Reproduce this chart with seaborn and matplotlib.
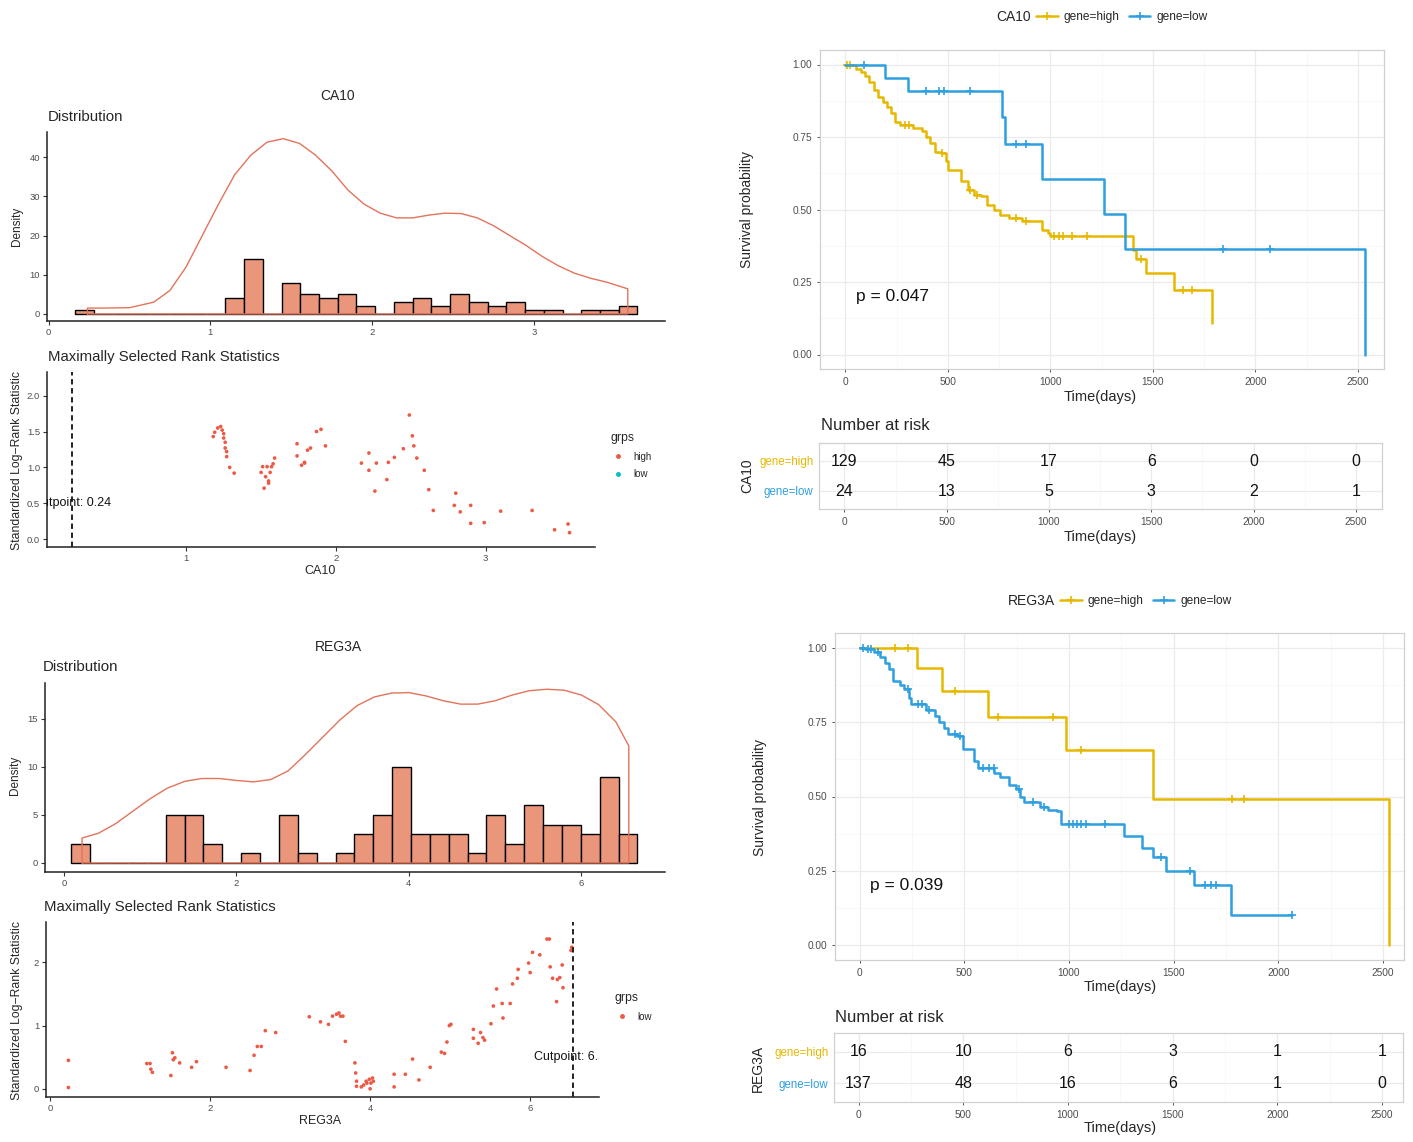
import numpy as np
import pandas as pd
import matplotlib
matplotlib.use("Agg")
import matplotlib.pyplot as plt
from matplotlib.lines import Line2D
from matplotlib.ticker import MultipleLocator, FormatStrFormatter
import seaborn as sns

W, H = 1413, 1142

# ---------------- distribution panels (counts per bin) ----------------
ca10_bin_lo, ca10_bin_hi = 0.166, 3.64
ca10_counts = [1, 0, 0, 0, 0, 0, 0, 0, 4, 14, 0, 8, 5, 4, 5, 2,
               0, 3, 4, 2, 5, 3, 2, 3, 1, 1, 0, 1, 1, 2]
ca10_dens_x = [0.24, 0.35, 0.50, 0.65, 0.75, 0.85, 0.95, 1.05, 1.15, 1.25, 1.35, 1.45, 1.55,
               1.65, 1.75, 1.85, 1.95, 2.05, 2.15, 2.25, 2.35, 2.45, 2.55, 2.65, 2.75, 2.85,
               2.95, 3.05, 3.15, 3.25, 3.35, 3.45, 3.58]
ca10_dens_y = [1.5, 1.5, 1.6, 3.0, 6.0, 12.0, 20.0, 28.0, 35.5, 40.5, 43.8, 44.7, 43.5,
               40.5, 36.5, 31.6, 28.0, 25.7, 24.5, 24.5, 25.2, 25.7, 25.6, 24.5, 22.5, 20.0,
               17.5, 14.7, 12.3, 10.4, 9.1, 8.1, 6.4]

reg_bin_lo, reg_bin_hi = 0.086, 6.65
reg_counts = [2, 0, 0, 0, 0, 5, 5, 2, 0, 1, 0, 5, 1, 0, 1, 3,
              5, 10, 3, 3, 3, 1, 5, 2, 6, 4, 4, 3, 9, 3]
reg_dens_x = [0.21, 0.4, 0.6, 0.8, 1.0, 1.2, 1.4, 1.6, 1.8, 2.0, 2.2, 2.4, 2.6, 2.8, 3.0,
              3.2, 3.4, 3.6, 3.8, 4.0, 4.2, 4.4, 4.6, 4.8, 5.0, 5.2, 5.4, 5.6, 5.8, 6.0,
              6.2, 6.4, 6.55]
reg_dens_y = [2.6, 3.1, 4.1, 5.4, 6.7, 7.8, 8.5, 8.8, 8.8, 8.6, 8.45, 8.7, 9.6, 11.3, 13.1,
              14.9, 16.4, 17.3, 17.7, 17.75, 17.4, 16.9, 16.55, 16.55, 16.9, 17.5, 17.95,
              18.1, 18.0, 17.5, 16.5, 14.7, 12.2]

# ---------------- maximally selected rank statistics ----------------
ca10_rank_x = [1.18, 1.19, 1.21, 1.23, 1.24, 1.25, 1.25, 1.26, 1.26, 1.27, 1.27, 1.29, 1.32,
               1.50, 1.51, 1.52, 1.53, 1.54, 1.55, 1.56, 1.57, 1.58, 1.59, 1.55,
               1.74, 1.74, 1.77, 1.79, 1.79, 1.81, 1.83, 1.87, 1.90, 1.93,
               2.17, 2.22, 2.22, 2.26, 2.27, 2.34, 2.35, 2.39, 2.45, 2.49, 2.51, 2.52, 2.54,
               2.59, 2.62, 2.65, 2.80, 2.79, 2.83, 2.90, 2.90, 2.99, 3.10, 3.31, 3.46, 3.55, 3.56]
ca10_rank_y = [1.43, 1.49, 1.55, 1.57, 1.52, 1.47, 1.41, 1.35, 1.27, 1.22, 1.15, 1.00, 0.92,
               0.93, 1.01, 0.71, 0.87, 1.01, 0.81, 0.93, 1.01, 1.05, 1.13, 0.78,
               1.33, 1.16, 1.03, 1.07, 1.06, 1.24, 1.27, 1.50, 1.53, 1.30,
               1.06, 1.20, 0.96, 0.67, 1.06, 0.83, 1.07, 1.14, 1.26, 1.73, 1.44, 1.30, 1.13,
               0.96, 0.69, 0.40, 0.64, 0.47, 0.38, 0.47, 0.22, 0.23, 0.39, 0.40, 0.13, 0.21, 0.09]
ca10_cut = 0.24

reg_rank_x = [0.23, 0.23, 1.21, 1.25, 1.26, 1.28, 1.51, 1.53, 1.54, 1.56, 1.62, 1.77, 1.83,
              2.20, 2.50, 2.55, 2.59, 2.64, 2.69, 2.82,
              3.24, 3.38, 3.48, 3.53, 3.58, 3.61, 3.63, 3.66, 3.69,
              3.81, 3.82, 3.83, 3.83, 3.89, 3.92, 3.95, 3.96, 3.99, 4.00, 4.01, 4.03, 4.04,
              4.30, 4.30, 4.44, 4.53, 4.61, 4.75,
              4.89, 4.93, 4.96, 4.99, 5.01,
              5.29, 5.29, 5.35, 5.38, 5.41, 5.43,
              5.51, 5.54, 5.58, 5.65, 5.66, 5.75, 5.78, 5.84, 5.85,
              5.98, 6.00, 6.03, 6.12, 6.21, 6.24, 6.25, 6.28, 6.33, 6.34, 6.37, 6.40, 6.41,
              6.51, 6.52]
reg_rank_y = [0.45, 0.02, 0.40, 0.40, 0.31, 0.26, 0.21, 0.57, 0.46, 0.49, 0.41, 0.34, 0.43,
              0.34, 0.29, 0.53, 0.67, 0.67, 0.92, 0.89,
              1.14, 1.06, 1.02, 1.15, 1.18, 1.20, 1.15, 1.15, 0.75,
              0.41, 0.25, 0.12, 0.04, 0.03, 0.06, 0.12, 0.09, 0.15, 0.00, 0.09, 0.17, 0.12,
              0.23, 0.03, 0.23, 0.47, 0.14, 0.34,
              0.58, 0.56, 0.74, 1.00, 1.02,
              0.94, 0.80, 0.72, 0.89, 0.81, 0.77,
              1.03, 1.31, 1.58, 1.35, 1.12, 1.35, 1.66, 1.75, 1.89,
              1.99, 1.84, 2.16, 2.12, 2.37, 2.37, 1.93, 1.75, 1.38, 1.73, 1.76, 1.96, 1.60,
              2.19, 2.24]
reg_cut = 6.53

# ---------------- Kaplan-Meier curves ----------------
ca10_high_t = [0, 53, 74, 96, 117, 138, 160, 181, 202, 223, 240, 266, 330, 372, 394, 415, 436,
               468, 489, 500, 564, 596, 628, 660, 691, 723, 755, 798, 862, 957, 989, 1000,
               1404, 1420, 1468, 1602, 1787]
ca10_high_s = [1.0, 0.986, 0.975, 0.96, 0.94, 0.912, 0.887, 0.872, 0.855, 0.832, 0.803, 0.792,
               0.78, 0.769, 0.751, 0.729, 0.70, 0.694, 0.666, 0.637, 0.597, 0.568, 0.551, 0.545,
               0.517, 0.50, 0.482, 0.471, 0.459, 0.431, 0.419, 0.408, 0.362, 0.33, 0.28, 0.222,
               0.11]
ca10_high_cens = [10, 20, 290, 310, 470, 610, 640, 830, 880, 1020, 1040, 1064, 1106, 1177,
                  1440, 1649, 1691]
ca10_low_t = [0, 191, 304, 766, 781, 960, 1262, 1362, 2534]
ca10_low_s = [1.0, 0.955, 0.908, 0.818, 0.727, 0.605, 0.484, 0.363, 0.0]
ca10_low_cens = [91, 394, 457, 479, 606, 830, 883, 1840, 2074]

reg_high_t = [0, 273, 395, 614, 984, 1401, 2530]
reg_high_s = [1.0, 0.933, 0.855, 0.768, 0.658, 0.493, 0.0]
reg_high_cens = [169, 231, 454, 662, 922, 1057, 1779, 1838]
reg_low_t = [0, 27, 69, 100, 121, 142, 162, 194, 214, 235, 246, 318, 360, 381, 402, 422, 464,
             495, 547, 568, 641, 672, 714, 745, 766, 787, 860, 901, 943, 964, 1265, 1349,
             1401, 1463, 1598, 1775, 2067]
reg_low_s = [1.0, 0.995, 0.985, 0.97, 0.95, 0.93, 0.89, 0.875, 0.86, 0.83, 0.81, 0.79, 0.77,
             0.75, 0.73, 0.71, 0.705, 0.66, 0.62, 0.595, 0.58, 0.565, 0.54, 0.525, 0.50, 0.48,
             0.465, 0.455, 0.45, 0.406, 0.367, 0.328, 0.295, 0.25, 0.203, 0.10, 0.10]
reg_low_cens = [15, 40, 55, 90, 230, 280, 300, 330, 455, 480, 590, 620, 640, 760, 830, 880,
                1000, 1020, 1040, 1060, 1080, 1170, 1440, 1580, 1650, 1680, 1700, 2067]

# ---------------- number at risk ----------------
risk_times = [0, 500, 1000, 1500, 2000, 2500]
ca10_risk_high = [129, 45, 17, 6, 0, 0]
ca10_risk_low = [24, 13, 5, 3, 2, 1]
reg_risk_high = [16, 10, 6, 3, 1, 1]
reg_risk_low = [137, 48, 16, 6, 1, 0]

groups = ["gene=high", "gene=low"]
ca10_p = "p = 0.047"
reg_p = "p = 0.039"

# colours
BAR = "#E9967A"
DENS = "#E3735B"
PT = "#EC5A45"
TEAL = "#00BFC4"
YEL = "#E7B800"
BLU = "#2E9FDF"
TICKC = "#4D4D4D"

sns.set_theme(style="white")
plt.rcParams["font.family"] = ["Liberation Sans", "DejaVu Sans"]

fig = plt.figure(figsize=(W / 100, H / 100), dpi=100)


def add_ax(l, t, r, b):
    # pixel box -> figure fraction
    return fig.add_axes([l / W, 1 - b / H, (r - l) / W, (b - t) / H])


def ftext(x, y, s, **kw):
    fig.text(x / W, 1 - y / H, s, **kw)


def classic(ax):
    ax.set_xlabel("")
    ax.set_ylabel("")
    ax.grid(False)
    for side in ["top", "right"]:
        ax.spines[side].set_visible(False)
    for side in ["left", "bottom"]:
        ax.spines[side].set_color("#222222")
        ax.spines[side].set_linewidth(1.1)
    ax.tick_params(length=3, width=0.8, color="#333333", labelsize=6.8,
                   labelcolor=TICKC, pad=2, left=True, bottom=True)


def bw(ax):
    ax.set_xlabel("")
    ax.set_ylabel("")
    for side in ax.spines:
        ax.spines[side].set_visible(True)
        ax.spines[side].set_color("#D0D0D0")
        ax.spines[side].set_linewidth(0.9)
    ax.set_axisbelow(True)
    ax.grid(True, which="major", color="#EBEBEB", lw=0.9)
    ax.grid(True, which="minor", color="#F5F5F5", lw=0.5)
    ax.tick_params(which="major", length=2.5, width=0.7, color="#555555", labelsize=7.3,
                   labelcolor=TICKC, pad=3, left=True, bottom=True)
    ax.tick_params(which="minor", length=0)


def draw_distribution(ax, lo, hi, counts, dens_x, dens_y, xlim, ylim, xstep, ystep):
    nb = len(counts)
    width = (hi - lo) / nb
    hist_df = pd.DataFrame({"mid": lo + width * (np.arange(nb) + 0.5), "n": counts})
    sns.histplot(data=hist_df, x="mid", weights="n", bins=nb, binrange=(lo, hi),
                 color=BAR, edgecolor="black", linewidth=1.0, alpha=1, ax=ax)
    # closed outline of the density curve
    xs = [dens_x[0]] + list(dens_x) + [dens_x[-1], dens_x[0]]
    ys = [0] + list(dens_y) + [0, 0]
    ax.plot(xs, ys, color=DENS, lw=1.0, zorder=3)
    ax.set_xlim(*xlim)
    ax.set_ylim(*ylim)
    ax.xaxis.set_major_locator(MultipleLocator(xstep))
    ax.yaxis.set_major_locator(MultipleLocator(ystep))
    classic(ax)


def draw_rank(ax, xs, ys, cut, xlim, ylim, xstep, ystep, yfmt):
    sns.scatterplot(x=xs, y=ys, color=PT, s=7, edgecolor="none", ax=ax, legend=False)
    ax.axvline(cut, color="#111111", ls=(0, (3, 2)), lw=1.3)
    ax.text(cut, 0.5, f"Cutpoint: {cut:.2f}", ha="center", va="center", fontsize=9,
            clip_on=True, color="#111111")
    ax.set_xlim(*xlim)
    ax.set_ylim(*ylim)
    ax.xaxis.set_major_locator(MultipleLocator(xstep))
    ax.yaxis.set_major_locator(MultipleLocator(ystep))
    ax.yaxis.set_major_formatter(FormatStrFormatter(yfmt))
    classic(ax)


def draw_km(ax, curves, pval, xlim):
    for t, s, cens, col in curves:
        sns.lineplot(x=t, y=s, drawstyle="steps-post", estimator=None, sort=False,
                     color=col, lw=1.8, ax=ax)
        t_arr = np.asarray(t)
        s_arr = np.asarray(s)
        idx = np.searchsorted(t_arr, cens, side="right") - 1
        ax.plot(cens, s_arr[idx], ls="none", marker="+", ms=6, mew=1.2, color=col)
    ax.text(50, 0.2, pval, ha="left", va="center", fontsize=12.5, color="#111111")
    ax.set_xlim(*xlim)
    ax.set_ylim(-0.05, 1.05)
    ax.xaxis.set_major_locator(MultipleLocator(500))
    ax.xaxis.set_minor_locator(MultipleLocator(250))
    ax.yaxis.set_major_locator(MultipleLocator(0.25))
    ax.yaxis.set_minor_locator(MultipleLocator(0.125))
    ax.yaxis.set_major_formatter(FormatStrFormatter("%.2f"))
    bw(ax)


def draw_risk(ax, times, high, low, xlim):
    for i, tm in enumerate(times):
        ax.text(tm, 1, str(high[i]), ha="center", va="center", fontsize=11.5, color="#111111")
        ax.text(tm, 0, str(low[i]), ha="center", va="center", fontsize=11.5, color="#111111")
    ax.set_xlim(*xlim)
    ax.set_ylim(-0.6, 1.6)
    ax.xaxis.set_major_locator(MultipleLocator(500))
    ax.xaxis.set_minor_locator(MultipleLocator(250))
    ax.set_yticks([1, 0])
    ax.set_yticklabels(groups)
    bw(ax)
    ax.tick_params(axis="y", labelsize=8.3, length=0, pad=4)
    for lbl, col in zip(ax.get_yticklabels(), [YEL, BLU]):
        lbl.set_color(col)


def km_legend(title, x_title, y):
    ftext(x_title, y, title, ha="right", va="center", fontsize=10)
    handles = [Line2D([], [], color=YEL, lw=1.8, marker="+", ms=6, mew=1.2),
               Line2D([], [], color=BLU, lw=1.8, marker="+", ms=6, mew=1.2)]
    fig.legend(handles, groups, loc="center left", bbox_to_anchor=((x_title + 5) / W, 1 - y / H),
               ncol=2, frameon=False, fontsize=8.6, handlelength=1.8, handletextpad=0.5,
               columnspacing=0.8, borderaxespad=0, borderpad=0)


def grps_legend(labels, colors, x, y):
    handles = [Line2D([], [], ls="none", marker="o", ms=2.5, color=c) for c in colors]
    fig.legend(handles, labels, title="grps", loc="upper left",
               bbox_to_anchor=(x / W, 1 - y / H), frameon=False, fontsize=7,
               title_fontsize=8.8, alignment="left", handlelength=1.4, handletextpad=0.9,
               labelspacing=0.8)


# ================= CA10 (top row) =================
ax1 = add_ax(47, 132, 665, 321)
draw_distribution(ax1, ca10_bin_lo, ca10_bin_hi, ca10_counts, ca10_dens_x, ca10_dens_y,
                  (-0.01, 3.81), (-1.8, 46.4), 1, 10)
ftext(338, 96, "CA10", ha="center", va="center", fontsize=10)
ftext(48, 117, "Distribution", ha="left", va="center", fontsize=10.8)
ftext(17, 226, "Density", ha="center", va="center", rotation=90, fontsize=8.5)

ax2 = add_ax(47, 372, 595, 547)
draw_rank(ax2, ca10_rank_x, ca10_rank_y, ca10_cut, (0.07, 3.73), (-0.11, 2.33), 1, 0.5, "%.1f")
ftext(48, 357, "Maximally Selected Rank Statistics", ha="left", va="center", fontsize=10.7)
ftext(17, 460, "Standardized Log\u2212Rank Statistic", ha="center", va="center",
      rotation=90, fontsize=8.8)
ftext(320, 571, "CA10", ha="center", va="center", fontsize=9)
grps_legend(["high", "low"], [PT, TEAL], 602, 423)

ax3 = add_ax(820, 50, 1384, 369)
km_xlim = (-124, 2628)
draw_km(ax3, [(ca10_high_t, ca10_high_s, ca10_high_cens, YEL),
              (ca10_low_t, ca10_low_s, ca10_low_cens, BLU)], ca10_p, km_xlim)
ftext(747, 210, "Survival probability", ha="center", va="center", rotation=90, fontsize=10)
ftext(1100, 397, "Time(days)", ha="center", va="center", fontsize=10.5)
km_legend("CA10", 1031, 17)

ax4 = add_ax(819, 443, 1382, 509)
draw_risk(ax4, risk_times, ca10_risk_high, ca10_risk_low, km_xlim)
ftext(821, 426, "Number at risk", ha="left", va="center", fontsize=12)
ftext(747, 476, "CA10", ha="center", va="center", rotation=90, fontsize=10)
ftext(1100, 537, "Time(days)", ha="center", va="center", fontsize=10.5)

# ================= REG3A (bottom row) =================
ax5 = add_ax(45, 683, 665, 872)
draw_distribution(ax5, reg_bin_lo, reg_bin_hi, reg_counts, reg_dens_x, reg_dens_y,
                  (-0.22, 6.97), (-0.94, 18.75), 2, 5)
ftext(338, 647, "REG3A", ha="center", va="center", fontsize=10)
ftext(43, 667, "Distribution", ha="left", va="center", fontsize=10.8)
ftext(15, 775, "Density", ha="center", va="center", rotation=90, fontsize=8.5)

ax6 = add_ax(46, 922, 599, 1097)
draw_rank(ax6, reg_rank_x, reg_rank_y, reg_cut, (-0.05, 6.86), (-0.13, 2.64), 2, 1, "%d")
ftext(44, 907, "Maximally Selected Rank Statistics", ha="left", va="center", fontsize=10.7)
ftext(17, 1010, "Standardized Log\u2212Rank Statistic", ha="center", va="center",
      rotation=90, fontsize=8.8)
ftext(320, 1121, "REG3A", ha="center", va="center", fontsize=9)
grps_legend(["low"], [PT], 606, 983)

ax7 = add_ax(835, 633, 1404, 960)
km_xlim2 = (-117, 2600)
draw_km(ax7, [(reg_high_t, reg_high_s, reg_high_cens, YEL),
              (reg_low_t, reg_low_s, reg_low_cens, BLU)], reg_p, km_xlim2)
ftext(760, 797, "Survival probability", ha="center", va="center", rotation=90, fontsize=10)
ftext(1120, 987, "Time(days)", ha="center", va="center", fontsize=10.5)
km_legend("REG3A", 1055, 601)

ax8 = add_ax(834, 1033, 1403, 1102)
draw_risk(ax8, risk_times, reg_risk_high, reg_risk_low, km_xlim2)
ftext(835, 1017, "Number at risk", ha="left", va="center", fontsize=12)
ftext(758, 1068, "REG3A", ha="center", va="center", rotation=90, fontsize=10)
ftext(1120, 1128, "Time(days)", ha="center", va="center", fontsize=10.5)

fig.savefig("out.png", dpi=100)
